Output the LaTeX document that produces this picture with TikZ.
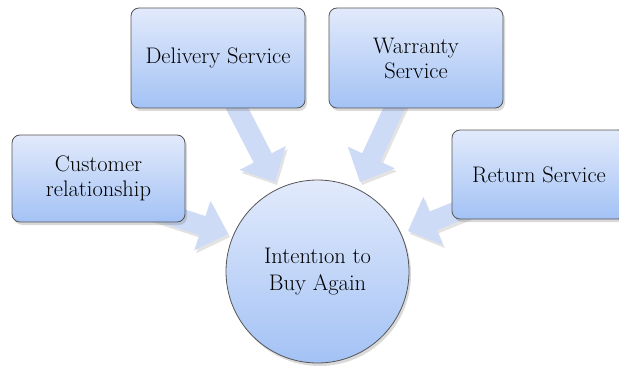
\documentclass[tikz,border=0pt]{standalone}
\usetikzlibrary{calc,shadows}

\definecolor{boxtop}{RGB}{226,234,251}
\definecolor{boxbot}{RGB}{163,194,245}
\definecolor{arrowblue}{RGB}{205,219,247}
\definecolor{edgegray}{RGB}{85,85,85}

\tikzset{
  x=1pt, y=1pt,
  item/.style={draw=edgegray, line width=0.8pt, rounded corners=8pt,
    top color=boxtop, bottom color=boxbot, align=center, inner sep=0pt,
    font=\fontsize{22.5}{25}\selectfont,
    drop shadow={shadow xshift=2pt, shadow yshift=-3pt, opacity=0.3}},
  goalnode/.style={circle, draw=edgegray, line width=0.8pt,
    top color=boxtop, bottom color=boxbot, align=center, inner sep=0pt,
    minimum size=183pt, font=\fontsize{22.5}{26.5}\selectfont,
    drop shadow={shadow xshift=2pt, shadow yshift=-3pt, opacity=0.3}},
  blockarrow/.style={fill=arrowblue,
    drop shadow={shadow xshift=2pt, shadow yshift=-3pt, opacity=0.22}}
}

% wide block arrow from coordinate #1 to tip #2
\newcommand\flowarrow[2]{%
  \coordinate (#2-base) at ($(#2)!27pt!(#1)$);
  \path[blockarrow]
    ($(#1)!10pt!90:(#2)$) -- ($(#2-base)!10pt!90:(#2)$) --
    ($(#2-base)!26pt!90:(#2)$) -- (#2) --
    ($(#2-base)!26pt!-90:(#2)$) -- ($(#2-base)!10pt!-90:(#2)$) --
    ($(#1)!10pt!-90:(#2)$) -- cycle;}

\begin{document}
\begin{tikzpicture}
\useasboundingbox (0,0) rectangle (619,365);
\clip (0,0) rectangle (619,365);

% arrow ends
\coordinate (cust-s) at (133,162);
\coordinate (cust-t) at (228,131);
\coordinate (deliv-s) at (229,272);
\coordinate (deliv-t) at (275,183);
\coordinate (warr-s) at (402,274);
\coordinate (warr-t) at (360,183);
\coordinate (ret-s) at (501,171.5);
\coordinate (ret-t) at (408,134);

\flowarrow{cust-s}{cust-t}
\flowarrow{deliv-s}{deliv-t}
\flowarrow{warr-s}{warr-t}
\flowarrow{ret-s}{ret-t}

% influencing factors
\node[item, minimum width=173pt, minimum height=87pt] (cust) at (98.5,186.5)
  {Customer\\relationship};
\node[item, minimum width=174pt, minimum height=100pt] (deliv) at (218,307)
  {Delivery Service};
\node[item, minimum width=174pt, minimum height=100pt] (warr) at (416,307)
  {Warranty\\Service};
\node[item, minimum width=174pt, minimum height=89pt] (ret) at (539,190.5)
  {Return Service};

% outcome
\node[goalnode] (goal) at (317.5,93.5) {Intent\i on to\\Buy Again};
\end{tikzpicture}
\end{document}
